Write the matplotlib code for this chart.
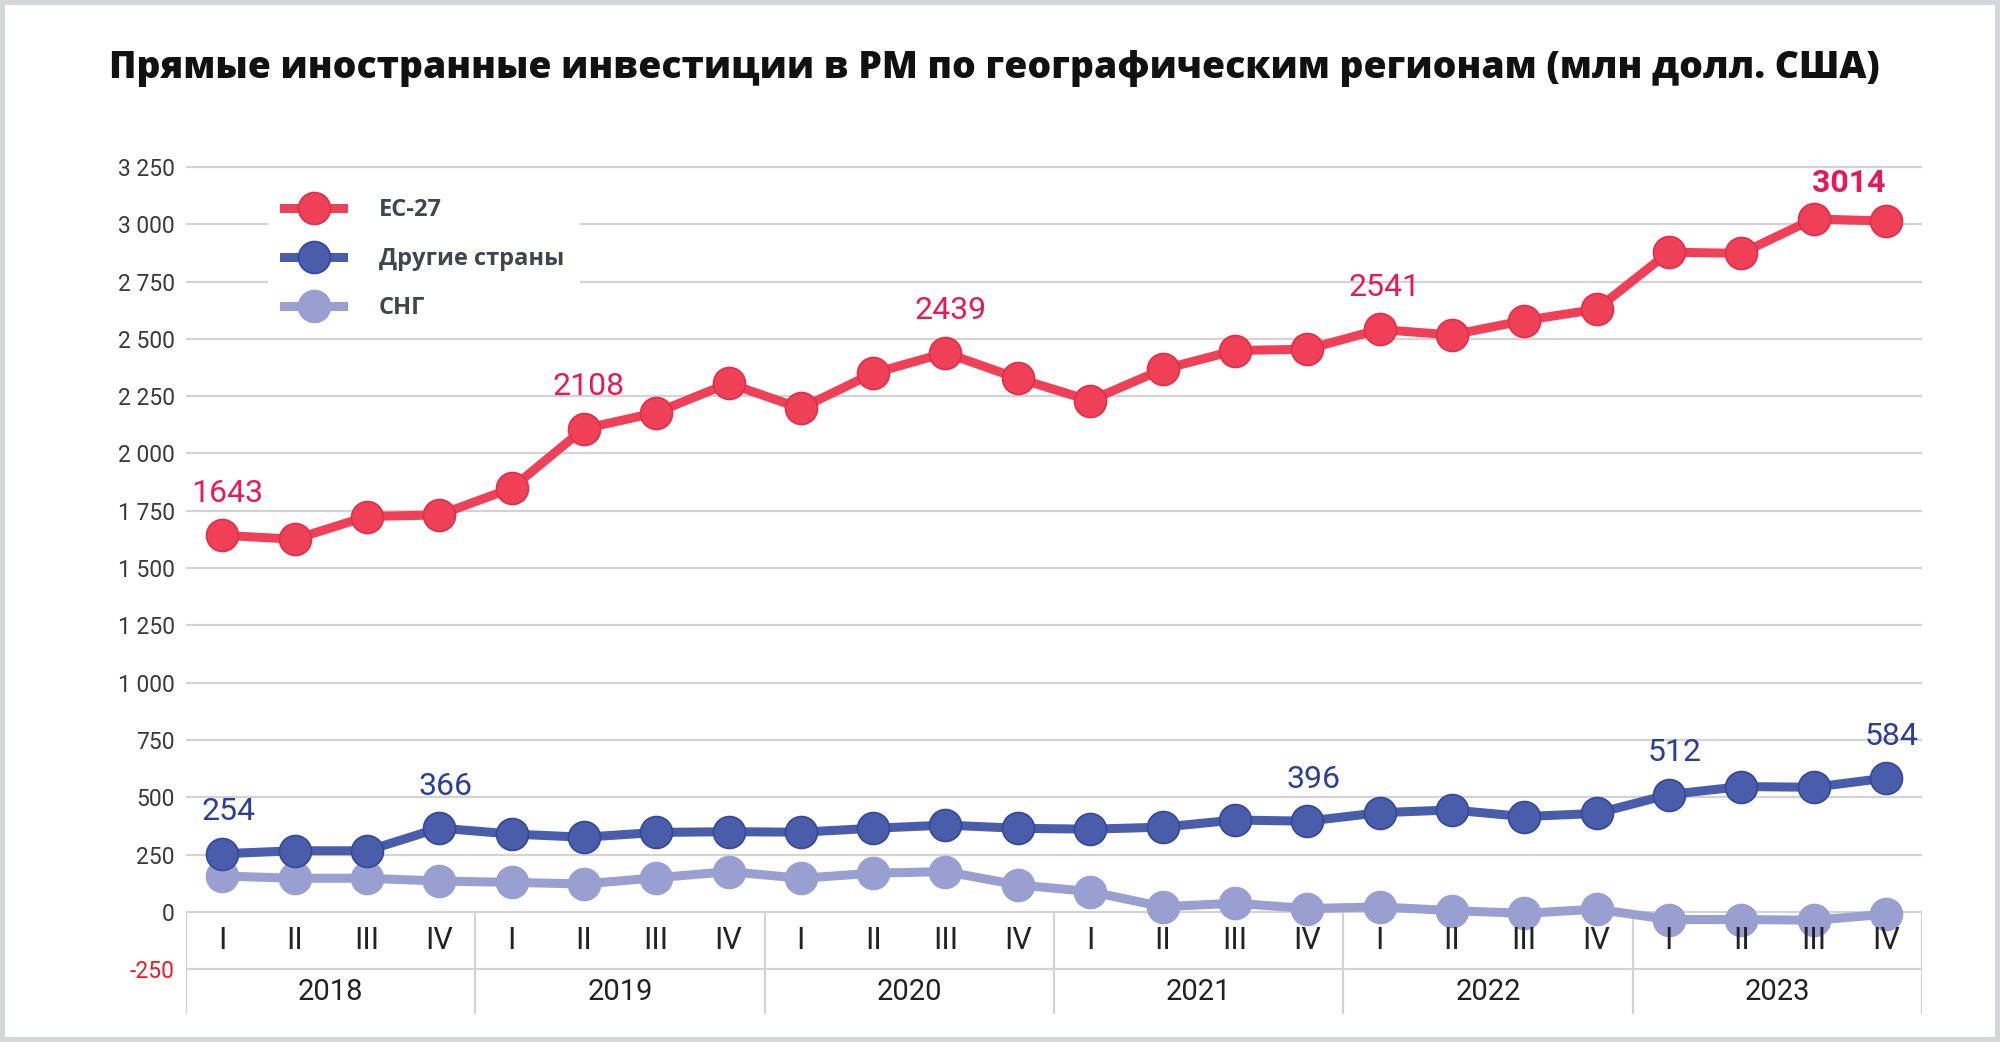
import matplotlib
matplotlib.use("Agg")
import matplotlib.pyplot as plt
from matplotlib.patches import Rectangle

# quarterly FDI by region, mln USD
years = ["2018", "2019", "2020", "2021", "2022", "2023"]
quarters = ["I", "II", "III", "IV"]

eu27 = [1643, 1626, 1725, 1732, 1848, 2108, 2178, 2306, 2197, 2350, 2439, 2328,
        2231, 2367, 2449, 2455, 2541, 2517, 2580, 2629, 2878, 2873, 3023, 3014]
other = [254, 267, 267, 366, 340, 326, 347, 350, 348, 365, 379, 365,
         361, 370, 401, 396, 433, 445, 416, 430, 512, 547, 544, 584]
cis = [157, 147, 147, 135, 129, 122, 149, 176, 147, 169, 176, 118,
       89, 23, 38, 15, 22, 6, -6, 12, -33, -33, -36, -10]

eu_labels = [0, 5, 10, 16]
other_labels = [0, 3, 15, 20, 23]

yticks = list(range(-250, 3251, 250))

NUM_FONT = ["Roboto", "DejaVu Sans"]
RED = "#EF4058"
RED_TXT = "#E6195A"
BLUE = "#4A5DAA"
BLUE_TXT = "#2B3E9A"
LILAC = "#9A9FD1"
GRID = "#D3D3D3"

fig = plt.figure(figsize=(20, 10.42), dpi=100)
ax = fig.add_axes([0.093, 0.0269, 0.868, 0.8195])

x = list(range(len(eu27)))
n = len(x)

ax.plot(x, eu27, color=RED, lw=6.5, marker="o", ms=23, mfc=RED, mec="#E22D4B",
        mew=1.2, label="ЕС-27", zorder=5)
ax.plot(x, other, color=BLUE, lw=6.5, marker="o", ms=23, mfc=BLUE, mec="#34479C",
        mew=1.2, label="Другие страны", zorder=4)
ax.plot(x, cis, color=LILAC, lw=6.5, marker="o", ms=23, mfc=LILAC, mec=LILAC,
        mew=1.2, label="СНГ", zorder=3)

# value labels
for i in eu_labels:
    ax.annotate(str(eu27[i]), (x[i], eu27[i]), xytext=(5, 42), textcoords="offset pixels",
                ha="center", va="center", fontsize=23, color=RED_TXT, family=NUM_FONT, zorder=7)
ax.annotate(str(eu27[-1]), (x[-1], eu27[-1]), xytext=(-37, 38), textcoords="offset pixels",
            ha="center", va="center", fontsize=23, color=RED_TXT, family=NUM_FONT,
            fontweight="bold", zorder=7)
for i in other_labels:
    ax.annotate(str(other[i]), (x[i], other[i]), xytext=(6, 42), textcoords="offset pixels",
                ha="center", va="center", fontsize=23, color=BLUE_TXT, family=NUM_FONT, zorder=7)

# axes setup
ax.set_xlim(-0.5, n - 0.5)
ax.set_ylim(-445, 3280)
ax.set_yticks(yticks)
ax.set_yticklabels([f"{v:,}".replace(",", " ") for v in yticks], family=NUM_FONT,
                   fontsize=16.5, color="#3A3A3A")
ax.get_yticklabels()[0].set_color("#ED1C24")
ax.tick_params(axis="y", length=0, pad=8)
ax.set_xticks([])
for s in ax.spines.values():
    s.set_visible(False)
ax.yaxis.grid(True, color=GRID, lw=1.6)
ax.set_axisbelow(True)

# category axis: quarters and years
for i in x:
    ax.text(i, -126, quarters[i % 4], ha="center", va="center", fontsize=22,
            family=NUM_FONT, color="#222222", zorder=6)
for k, yr in enumerate(years):
    ax.text(4 * k + 1.5, -349, yr, ha="center", va="center", fontsize=21,
            family=NUM_FONT, color="#222222")
for k in range(len(years) + 1):
    ax.plot([4 * k - 0.5, 4 * k - 0.5], [-445, 0], color=GRID, lw=1.6, zorder=1,
            solid_capstyle="butt")

ax.legend(loc="upper left", bbox_to_anchor=(0.047, 0.975), frameon=True, facecolor="white",
          edgecolor="none", framealpha=1, fancybox=False, handlelength=2.5,
          handletextpad=1.5, labelspacing=1.07, borderpad=0.7, borderaxespad=0,
          labelcolor="#3F474D", prop=dict(family=["Open Sans", "DejaVu Sans"],
                                          weight="bold", size=17))

fig.text(0.497, 0.934, "Прямые иностранные инвестиции в РМ по географическим регионам (млн долл. США)",
         ha="center", va="center", fontsize=26.8, fontweight="heavy", color="#111111",
         family=["Open Sans", "DejaVu Sans"])

fig.add_artist(Rectangle((0, 0), 1, 1, transform=fig.transFigure, fill=False,
                         ec="#D5D8DB", lw=7.2))

fig.savefig("out.png", dpi=100, facecolor="white")
